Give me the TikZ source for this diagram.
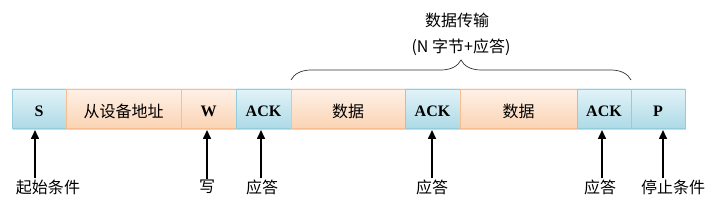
\documentclass[tikz,border=0pt]{standalone}
\usepackage{fontspec}
\setmainfont{Liberation Serif}
\newfontfamily\cjk{Noto Sans CJK SC}
\usetikzlibrary{positioning,shadows,arrows.meta,decorations.pathreplacing}

\definecolor{blueline}{HTML}{93CDDD}
\definecolor{bluetop}{HTML}{E2F3F8}
\definecolor{bluebot}{HTML}{AEDAE6}
\definecolor{orangeline}{HTML}{F9BE8F}
\definecolor{orangetop}{HTML}{FEF1E7}
\definecolor{orangebot}{HTML}{FBD4B4}

\tikzset{
  cell/.style={draw, line width=0.8pt, minimum height=39pt, inner sep=0pt, outer sep=0pt,
    drop shadow={shadow xshift=1pt, shadow yshift=-2.5pt, opacity=0.3}},
  bluecell/.style={cell, draw=blueline, top color=bluetop, bottom color=bluebot,
    font=\fontsize{16}{18}\selectfont\bfseries, text height=17pt, text depth=0pt},
  orangecell/.style={cell, draw=orangeline, top color=orangetop, bottom color=orangebot,
    font=\cjk\fontsize{16}{18}\selectfont, text height=19pt, text depth=0pt},
  latin/.style={font=\fontsize{16}{18}\selectfont\bfseries, text height=17pt},
  lbl/.style={font=\cjk\fontsize{16}{18}\selectfont, inner sep=1pt},
  arr/.style={-{Triangle[length=9pt,width=8pt]}, line width=1.6pt},
}

\begin{document}
\begin{tikzpicture}[x=1pt,y=-1pt]
    \useasboundingbox (0,0) rectangle (719,200);

    % Frame cells
    \node[bluecell, minimum width=54pt, anchor=north west] (s) at (12,89) {S};
    \node[orangecell, minimum width=115pt, right=0pt of s] (addr) {从设备地址};
    \node[orangecell, latin, minimum width=55pt, right=0pt of addr] (w) {W};
    \node[bluecell, minimum width=55pt, right=0pt of w] (ack1) {ACK};
    \node[orangecell, minimum width=114pt, right=0pt of ack1] (data1) {数据};
    \node[bluecell, minimum width=55pt, right=0pt of data1] (ack2) {ACK};
    \node[orangecell, minimum width=117pt, right=0pt of ack2] (data2) {数据};
    \node[bluecell, minimum width=54pt, right=0pt of data2] (ack3) {ACK};
    \node[bluecell, minimum width=54pt, right=0pt of ack3] (p) {P};

    % Brace over the data part
    \draw[line width=0.7pt, black!80, decorate, decoration={brace, amplitude=20pt}]
        ([yshift=9pt]data1.north west) -- ([yshift=9pt]ack3.north east);
    \node[lbl] (nbytes) at (461,47) {(N 字节+应答)};
    \node[lbl] (transfer) at (457,20) {数据传输};

    % Labels below
    \node[lbl] (lstart) at (48,187) {起始条件};
    \node[lbl] (lw) at (207,187) {写};
    \node[lbl] (lack1) at (262,187) {应答};
    \node[lbl] (lack2) at (432,187) {应答};
    \node[lbl] (lack3) at (600,187) {应答};
    \node[lbl] (lstop) at (673,187) {停止条件};

    \coordinate (astart) at ([xshift=-13pt]lstart.north);
    \coordinate (aw) at (lw.north);
    \coordinate (aack1) at ([xshift=-1pt]lack1.north);
    \coordinate (aack2) at (lack2.north);
    \coordinate (aack3) at ([xshift=2pt]lack3.north);
    \coordinate (astop) at ([xshift=-10pt]lstop.north);

    \draw[arr] (astart) -- ([yshift=-2pt]astart |- s.south);
    \draw[arr] (aw) -- ([yshift=-2pt]aw |- w.south);
    \draw[arr] (aack1) -- ([yshift=-2pt]aack1 |- ack1.south);
    \draw[arr] (aack2) -- ([yshift=-2pt]aack2 |- ack2.south);
    \draw[arr] (aack3) -- ([yshift=-2pt]aack3 |- ack3.south);
    \draw[arr] (astop) -- ([yshift=-2pt]astop |- p.south);
\end{tikzpicture}
\end{document}
